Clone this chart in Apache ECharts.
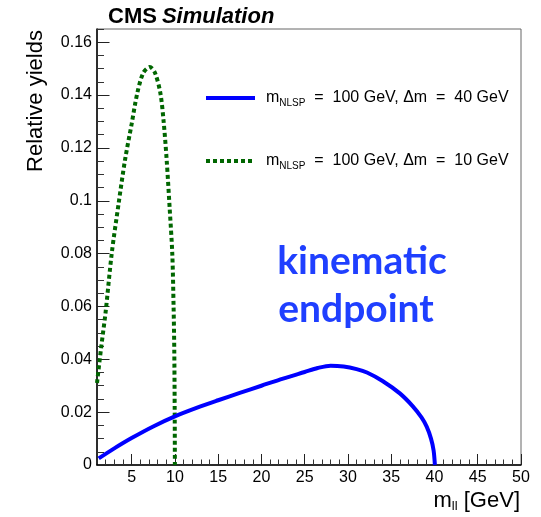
<!DOCTYPE html>
<html>
<head>
<meta charset="utf-8">
<script src="https://cdn.jsdelivr.net/npm/echarts@6/dist/echarts.min.js"></script>
<style>
  html, body { margin: 0; padding: 0; background: #fff; }
  #chart { width: 541px; height: 517px; }
</style>
</head>
<body>
<div id="chart"></div>
<script>
// m_ll [GeV], relative yield — dm = 40 GeV
const dm40X = [1.2, 3, 5, 7.5, 10, 12.5, 15, 17.5, 20, 22.5, 25, 26.5, 28, 29.5, 31, 32.2, 34, 36, 37.5, 38.5, 39.1, 39.6, 39.9, 40.05];
const dm40Y = [0.0025, 0.0063, 0.0102, 0.0146, 0.0184, 0.0216, 0.0245, 0.0273, 0.0300, 0.0327, 0.0352, 0.0367, 0.0376, 0.0373, 0.0363, 0.0350, 0.0318, 0.0271, 0.0222, 0.0180, 0.0145, 0.0100, 0.0055, 0];

// dm = 10 GeV
const dm10X = [1.0, 1.5, 2.0, 2.7, 3.5, 4.24, 5.0, 5.66, 6.35, 7.1, 7.7, 8.32, 8.7, 9.05, 9.4, 9.7, 9.85, 9.93, 9.98, 10.0];
const dm10Y = [0.031, 0.045, 0.058, 0.080, 0.099, 0.1155, 0.129, 0.1408, 0.1484, 0.1506, 0.1484, 0.1408, 0.130, 0.1155, 0.097, 0.080, 0.060, 0.0436, 0.020, 0];

const xMajor = [5, 10, 15, 20, 25, 30, 35, 40, 45, 50];
const yMajor = [0, 0.02, 0.04, 0.06, 0.08, 0.1, 0.12, 0.14, 0.16];

const xMinor = [];
for (let i = 2; i < 50; i++) if (i % 5 !== 0) xMinor.push(i);
const yMinor = [];
for (let k = 1; k <= 33; k++) if (k % 4 !== 0) yMinor.push(+(k * 0.005).toFixed(3));

const legendNames = ['dm40', 'dm10'];
const legendText = {
  dm40: '{m|m}{s|NLSP}{t|  =  100 GeV, \u0394m  =  40 GeV}',
  dm10: '{m|m}{s|NLSP}{t|  =  100 GeV, \u0394m  =  10 GeV}',
};

const chart = echarts.init(document.getElementById('chart'), null, {renderer: 'canvas'});
const font = '"Liberation Sans", Arial, Helvetica, sans-serif';

const zip = (xs, ys) => xs.map((x, i) => [x, ys[i]]);

const option = {
  animation: false,
  backgroundColor: '#fff',
  textStyle: {fontFamily: font},
  grid: {left: 97, right: 20, top: 29, bottom: 52, show: true, borderColor: '#666', borderWidth: 1, backgroundColor: 'transparent'},
  title: {
    left: 103,
    top: 1,
    text: '{b|CMS} {i|Simulation}',
    textStyle: {
      rich: {
        b: {fontFamily: font, fontWeight: 'bold', fontSize: 22, color: '#000'},
        i: {fontFamily: font, fontStyle: 'italic', fontSize: 22, color: '#000'},
      },
    },
  },
  legend: {
    orient: 'vertical',
    left: 204,
    top: 90,
    padding: 0,
    itemWidth: 49,
    itemHeight: 14,
    itemGap: 45,
    data: legendNames,
    itemStyle: {opacity: 0},
    lineStyle: {width: 4},
    formatter: (name) => legendText[name],
    textStyle: {
      padding: [0, 0, 0, 6],
      rich: {
        m: {fontFamily: font, fontSize: 16, color: '#000'},
        s: {fontFamily: font, fontSize: 10, color: '#000', padding: [10, 0, 0, 0]},
        t: {fontFamily: font, fontSize: 16, color: '#000'},
      },
    },
  },
  xAxis: [
    {
      type: 'value',
      min: 1,
      max: 50,
      axisLine: {show: true, lineStyle: {color: '#000', width: 1.5}},
      axisTick: {show: true, inside: true, length: 11, customValues: xMajor, lineStyle: {color: '#222'}},
      axisLabel: {show: true, customValues: xMajor, color: '#000', fontSize: 16, fontFamily: font, margin: 5},
      splitLine: {show: false},
      name: '{m|m}{s|ll}{t| [GeV]}',
      nameLocation: 'end',
      nameGap: -1,
      nameTextStyle: {
        align: 'right',
        verticalAlign: 'top',
        padding: [23, 0, 0, 0],
        rich: {
          m: {fontFamily: font, fontSize: 22, color: '#000'},
          s: {fontFamily: font, fontSize: 13, color: '#000', padding: [12, 0, 0, 0]},
          t: {fontFamily: font, fontSize: 22, color: '#000'},
        },
      },
    },
    {
      type: 'value',
      min: 1,
      max: 50,
      axisLine: {show: false},
      axisTick: {show: true, inside: true, length: 5.5, customValues: xMinor, lineStyle: {color: '#333'}},
      axisLabel: {show: false},
      splitLine: {show: false},
      position: 'bottom',
    },
  ],
  yAxis: [
    {
      type: 'value',
      min: 0,
      max: 0.165,
      axisLine: {show: true, lineStyle: {color: '#000', width: 1.5}},
      axisTick: {show: true, inside: true, length: 12.5, customValues: yMajor, lineStyle: {color: '#222'}},
      axisLabel: {show: true, customValues: yMajor, color: '#000', fontSize: 16, fontFamily: font, margin: 5, formatter: (v) => String(v)},
      splitLine: {show: false},
    },
    {
      type: 'value',
      min: 0,
      max: 0.165,
      position: 'left',
      axisLine: {show: false},
      axisTick: {show: true, inside: true, length: 7, customValues: yMinor, lineStyle: {color: '#333'}},
      axisLabel: {show: false},
      splitLine: {show: false},
    },
  ],
  graphic: [
    {
      type: 'text',
      x: 36,
      y: 101,
      rotation: Math.PI / 2,
      style: {text: 'Relative yields', font: '22px ' + font, fill: '#000', textAlign: 'center', textVerticalAlign: 'middle'},
    },
    {
      type: 'text',
      x: 362,
      y: 261,
      style: {text: 'kinematic', font: 'bold 39px Lato, "Open Sans", sans-serif', fill: '#1f3fff', textAlign: 'center', textVerticalAlign: 'middle'},
    },
    {
      type: 'text',
      x: 356,
      y: 309,
      style: {text: 'endpoint', font: 'bold 39px Lato, "Open Sans", sans-serif', fill: '#1f3fff', textAlign: 'center', textVerticalAlign: 'middle'},
    },
  ],
  series: [
    {
      name: 'dm40',
      type: 'line',
      data: zip(dm40X, dm40Y),
      showSymbol: false,
      symbol: 'none',
      smooth: 0.3,
      color: '#0000ff',
      lineStyle: {color: '#0000ff', width: 4},
      z: 3,
    },
    {
      name: 'dm10',
      type: 'line',
      data: zip(dm10X, dm10Y),
      showSymbol: false,
      symbol: 'none',
      smooth: 0.3,
      color: '#006600',
      lineStyle: {color: '#006600', width: 4, type: [4, 3]},
      z: 2,
    },
  ],
};

chart.setOption(option);
</script>
</body>
</html>
